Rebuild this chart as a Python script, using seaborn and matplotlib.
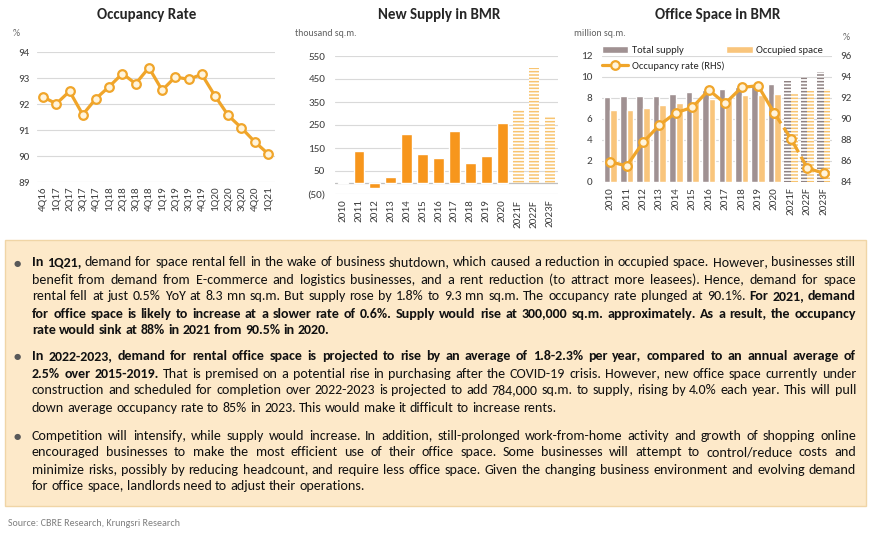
import matplotlib
matplotlib.use("Agg")
import matplotlib.pyplot as plt
from matplotlib import font_manager
from matplotlib.patches import Rectangle, Patch
from matplotlib.lines import Line2D
from matplotlib.ticker import FuncFormatter
import numpy as np
import pandas as pd
import seaborn as sns

# ---- data ----
quarters = ['4Q16', '1Q17', '2Q17', '3Q17', '4Q17', '1Q18', '2Q18', '3Q18', '4Q18',
            '1Q19', '2Q19', '3Q19', '4Q19', '1Q20', '2Q20', '3Q20', '4Q20', '1Q21']
occ_quarterly = [92.27, 92.01, 92.49, 91.59, 92.21, 92.67, 93.17, 92.78, 93.40,
                 92.53, 93.04, 92.95, 93.14, 92.31, 91.56, 91.08, 90.55, 90.09]

years = ['2010', '2011', '2012', '2013', '2014', '2015', '2016', '2017', '2018',
         '2019', '2020', '2021F', '2022F', '2023F']
n_actual = 11  # 2010-2020 actual, rest forecast
new_supply = [3, 135, -23, 23, 209, 126, 105, 222, 85, 114, 258, 316, 499, 287]
total_supply = [8.03, 8.13, 8.13, 8.13, 8.35, 8.50, 8.73, 8.83, 9.00, 9.10, 9.30, 9.62, 10.10, 10.40]
occupied_space = [6.80, 6.83, 7.05, 7.27, 7.46, 7.65, 7.87, 8.03, 8.22, 8.30, 8.38, 8.48, 8.63, 8.80]
occ_rate = [85.9, 85.5, 87.75, 89.4, 90.57, 91.08, 92.73, 91.46, 92.98, 93.14, 90.5, 88.1, 85.3, 84.8]

# ---- look ----
ORANGE = '#F7961C'
ORANGE_H = '#F8C470'
LINE_C = '#F0A52A'
MFC = '#FFF4DC'
GRAY = '#A09192'
GRAY_H = '#8F8282'
LIGHT = '#F9C57C'
GRID = '#D9D9D9'
AXLINE = '#BFBFBF'
TICK = '#404040'
BOX_BG = '#FDE9C9'
BOX_EDGE = '#F0D5A6'

sns.set_style('white')
names = {f.name for f in font_manager.fontManager.ttflist}
chart_font = next(f for f in ['Carlito', 'Lato', 'Open Sans', 'DejaVu Sans'] if f in names)
body_font = next(f for f in ['Carlito', 'Lato', 'DejaVu Sans'] if f in names)
plt.rcParams['font.family'] = [chart_font, 'DejaVu Sans']
plt.rcParams['hatch.linewidth'] = 1.1

W, H = 870, 536
fig = plt.figure(figsize=(W / 100, H / 100), dpi=100)
fig.patch.set_facecolor('white')


def px_box(l, t, r, b):
    return [l / W, 1 - b / H, (r - l) / W, (b - t) / H]


def fx(x):
    return x / W


def fy(y):
    return 1 - y / H


def tidy(ax):
    sns.despine(ax=ax, left=True, right=True, top=True, bottom=True)
    ax.tick_params(length=0, colors=TICK, labelsize=8)
    ax.set_xlabel('')
    ax.set_ylabel('')
    ax.set_facecolor('none')


# ---- chart 1: occupancy rate ----
ax1 = fig.add_axes(px_box(36.5, 52, 274.5, 182))
sns.lineplot(x=np.arange(len(quarters)), y=occ_quarterly, ax=ax1, color=LINE_C, lw=2.3,
             marker='o', markersize=6.2, markerfacecolor=MFC, markeredgecolor=LINE_C,
             markeredgewidth=1.6, clip_on=False)
ax1.set_xlim(-0.5, len(quarters) - 0.5)
ax1.set_ylim(89, 94)
ax1.set_yticks(range(89, 95))
ax1.set_xticks(range(len(quarters)))
ax1.set_xticklabels(quarters, rotation=90)
tidy(ax1)
ax1.tick_params(axis='y', pad=5)
ax1.tick_params(axis='x', pad=3)
ax1.yaxis.grid(True, color=GRID, lw=0.8)
ax1.set_axisbelow(True)
fig.text(fx(147), fy(15), 'Occupancy Rate', ha='center', va='center', fontsize=10.8, fontweight='bold')
fig.text(fx(13), fy(33), '%', ha='left', va='center', fontsize=7, color='#606060')

# ---- chart 2: new supply ----
ax2 = fig.add_axes(px_box(335, 56, 558, 194))
df2 = pd.DataFrame({'year': years, 'supply': new_supply})
sns.barplot(data=df2, x='year', y='supply', ax=ax2, color=ORANGE, saturation=1, width=0.67)
for i, bar in enumerate(ax2.patches):
    if i >= n_actual:
        bar.set_facecolor('white')
        bar.set_edgecolor(ORANGE_H)
        bar.set_hatch('-----')
        bar.set_linewidth(0)
ax2.set_ylim(-50, 550)
ax2.set_yticks(range(-50, 551, 100))
ax2.yaxis.set_major_formatter(FuncFormatter(lambda v, p: f'({abs(int(v))})' if v < 0 else f'{int(v)}'))
ax2.set_xticks(range(len(years)))
ax2.set_xticklabels(years, rotation=90)
tidy(ax2)
ax2.tick_params(axis='y', pad=7)
ax2.tick_params(axis='x', pad=4)
ax2.yaxis.grid(True, color=GRID, lw=0.8)
ax2.set_axisbelow(True)
ax2.axhline(0, color=AXLINE, lw=0.9, zorder=0.5)
fig.text(fx(439), fy(15), 'New Supply in BMR', ha='center', va='center', fontsize=10.8, fontweight='bold')
fig.text(fx(295), fy(33), 'thousand sq.m.', ha='left', va='center', fontsize=7, color='#606060')

# ---- chart 3: office space ----
ax3 = fig.add_axes(px_box(602, 55.7, 832, 181.7))
df3 = pd.DataFrame({
    'year': years * 2,
    'series': ['Total supply'] * len(years) + ['Occupied space'] * len(years),
    'value': total_supply + occupied_space,
})
sns.barplot(data=df3, x='year', y='value', hue='series',
            hue_order=['Total supply', 'Occupied space'], palette=[GRAY, LIGHT],
            saturation=1, width=0.81, gap=0, legend=False, ax=ax3)
for cont, hcol in zip(ax3.containers, [GRAY_H, ORANGE_H]):
    for i, bar in enumerate(cont):
        if i >= n_actual:
            bar.set_facecolor('white')
            bar.set_edgecolor(hcol)
            bar.set_hatch('-----')
            bar.set_linewidth(0)
ax3.set_ylim(0, 12)
ax3.set_yticks(range(0, 13, 2))
tidy(ax3)
ax3.yaxis.grid(True, color=GRID, lw=0.8)
ax3.set_axisbelow(True)

ax3b = ax3.twinx()
idx = np.arange(len(years))
line_kw = dict(color=LINE_C, lw=2.3, marker='o', markersize=6.2, markerfacecolor=MFC,
               markeredgecolor=LINE_C, markeredgewidth=1.6, clip_on=False)
sns.lineplot(x=idx[:n_actual], y=occ_rate[:n_actual], ax=ax3b, **line_kw)
sns.lineplot(x=idx[n_actual - 1:], y=occ_rate[n_actual - 1:], ax=ax3b, linestyle='--', **line_kw)
ax3b.set_ylim(84, 96)
ax3b.set_yticks(range(84, 97, 2))
tidy(ax3b)
ax3.set_xlim(-0.5, len(years) - 0.5)
ax3.set_xticks(range(len(years)))
ax3.set_xticklabels(years, rotation=90)
ax3.tick_params(axis='y', pad=7)
ax3.tick_params(axis='x', pad=4)
ax3b.tick_params(axis='y', pad=6)

handles = [Patch(facecolor=GRAY),
           Line2D([], [], color=LINE_C, lw=2.3, marker='o', markersize=6.2, markerfacecolor=MFC,
                  markeredgecolor=LINE_C, markeredgewidth=1.6),
           Patch(facecolor=LIGHT)]
ax3b.legend(handles, ['Total supply', 'Occupancy rate (RHS)', 'Occupied space'], ncol=2,
            loc='upper left', bbox_to_anchor=(0.0, 1.075), frameon=False, fontsize=7.6,
            handlelength=2.5, handleheight=0.55, handletextpad=0.3, columnspacing=0.2,
            labelspacing=0.55, borderaxespad=0, borderpad=0)
fig.text(fx(718), fy(15), 'Office Space in BMR', ha='center', va='center', fontsize=10.8, fontweight='bold')
fig.text(fx(574), fy(33), 'million sq.m.', ha='left', va='center', fontsize=7, color='#606060')
fig.text(fx(843), fy(37), '%', ha='left', va='center', fontsize=7, color='#606060')

# ---- commentary box ----
fig.add_artist(Rectangle((fx(5), fy(506)), (866 - 5) / W, (506 - 240) / H, transform=fig.transFigure,
                         facecolor=BOX_BG, edgecolor=BOX_EDGE, lw=1))

paragraphs = [
    [
        [("In 1Q21,", True), ("demand for space rental fell in the wake of business shutdown, which caused a reduction in occupied space. However, businesses still", False)],
        [("benefit from demand from E-commerce and logistics businesses, and a rent reduction (to attract more leasees). Hence, demand for space", False)],
        [("rental fell at just 0.5% YoY at 8.3 mn sq.m. But supply rose by 1.8% to 9.3 mn sq.m. The occupancy rate plunged at 90.1%.", False), ("For 2021, demand", True)],
        [("for office space is likely to increase at a slower rate of 0.6%. Supply would rise at 300,000 sq.m. approximately. As a result, the occupancy", True)],
        [("rate would sink at 88% in 2021 from 90.5% in 2020.", True)],
    ],
    [
        [("In 2022-2023, demand for rental office space is projected to rise by an average of 1.8-2.3% per year, compared to an annual average of", True)],
        [("2.5% over 2015-2019.", True), ("That is premised on a potential rise in purchasing after the COVID-19 crisis. However, new office space currently under", False)],
        [("construction and scheduled for completion over 2022-2023 is projected to add 784,000 sq.m. to supply, rising by 4.0% each year. This will pull", False)],
        [("down average occupancy rate to 85% in 2023. This would make it difficult to increase rents.", False)],
    ],
    [
        [("Competition will intensify, while supply would increase. In addition, still-prolonged work-from-home activity and growth of shopping online", False)],
        [("encouraged businesses to make the most efficient use of their office space. Some businesses will attempt to control/reduce costs and", False)],
        [("minimize risks, possibly by reducing headcount, and require less office space. Given the changing business environment and evolving demand", False)],
        [("for office space, landlords need to adjust their operations.", False)],
    ],
]
para_y = [263, 357, 436]
LINE_H = 17
TEXT_L, TEXT_R = 32, 856
AVAIL = TEXT_R - TEXT_L
renderer = fig.canvas.get_renderer()


def make_words(segs, size):
    arts = []
    for s, bold in segs:
        for w in s.split():
            arts.append(fig.text(0, 0, w, fontsize=size, fontweight='bold' if bold else 'normal',
                                 family=body_font, color='#111111', va='baseline', ha='left'))
    return arts


def width_of(a):
    return a.get_window_extent(renderer).width


base = 9.0
probe = fig.text(0, 0, 'a a', fontsize=base, family=body_font)
probe2 = fig.text(0, 0, 'aa', fontsize=base, family=body_font)
space_base = width_of(probe) - width_of(probe2)
probe.remove()
probe2.remove()


def natural(segs, size):
    arts = make_words(segs, size)
    w = sum(width_of(a) for a in arts) + space_base * size / base * (len(arts) - 1)
    for a in arts:
        a.remove()
    return w


# size from the plain (non-bold) full lines, bold-heavy lines shrink slightly if needed
plain = [natural(segs, base) for para in paragraphs for segs in para[:-1]
         if not any(b for _, b in segs)]
size = min(10.5, base * AVAIL * 0.985 / max(plain))
space_w = space_base * size / base

for para, y0 in zip(paragraphs, para_y):
    fig.text(fx(17), fy(y0), '\u25cf', family=['DejaVu Sans'], fontsize=6, color='#595959',
             ha='center', va='center')
    for li, segs in enumerate(para):
        nat = natural(segs, size)
        lsize = size if nat <= AVAIL * 0.99 else size * AVAIL * 0.99 / nat
        arts = make_words(segs, lsize)
        widths = [width_of(a) for a in arts]
        if li == len(para) - 1:
            gap = space_w
        else:
            gap = (AVAIL - sum(widths)) / (len(arts) - 1)
        x = TEXT_L
        y = y0 + li * LINE_H + 3.5
        for a, w in zip(arts, widths):
            a.set_position((fx(x), fy(y)))
            x += w + gap

fig.text(fx(8), fy(523), 'Source: CBRE Research, Krungsri Research', family=body_font,
         fontsize=7.2, color='#7F7F7F', ha='left', va='center')

fig.savefig('out.png', dpi=100)
